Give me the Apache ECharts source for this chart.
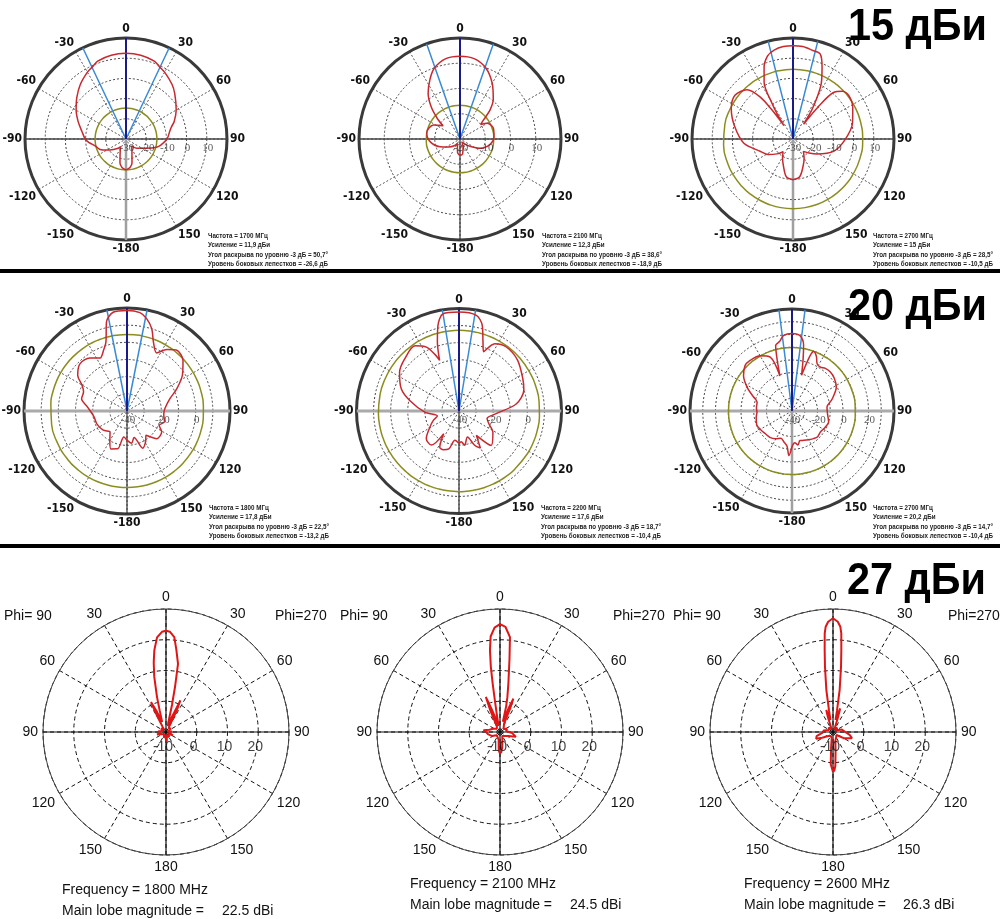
<!DOCTYPE html>
<html>
<head>
<meta charset="utf-8">
<title>Диаграммы направленности</title>
<style>
html, body { margin: 0; padding: 0; background: #fff; }
#chart { width: 1000px; height: 919px; }
</style>
</head>
<body>
<div id="chart"></div>
<script src="https://cdn.jsdelivr.net/npm/echarts@6/dist/echarts.min.js"></script>
<script>
// ---- pattern data: [angle deg, level dB] ----
var pat1700 = [[-180,-14.7],[-172,-15.8],[-166,-17.7],[-160,-21.4],[-152,-24],[-145,-25.4],[-140,-24],[-130,-22],[-120,-19],[-112,-16.2],[-103,-14.5],[-95,-11.5],[-90,-9.8],[-80,-7.8],[-70,-4.8],[-60,-1.5],[-50,1.8],[-40,5.2],[-30,8.2],[-25,9.4],[-20,11],[-10,12.1],[0,12.4],[10,12.1],[20,11],[25,9.4],[30,8.2],[40,5.4],[47,3],[60,-1.3],[70,-4.6],[75,-6.7],[80,-8],[90,-9.7],[100,-12.5],[105,-14.4],[114,-18.8],[122,-21.5],[131,-23],[141,-25.6],[150,-24.1],[160,-21.4],[166,-17.7],[172,-15.8],[180,-14.7]];
var pat2100a = [[-180,-13.4],[-170,-14.5],[-160,-17],[-150,-18],[-140,-16.5],[-125,-14.5],[-111,-11.5],[-95,-8.1],[-80,-6.6],[-70,-7],[-62,-8.1],[-56,-10.5],[-52,-11.5],[-48,-8],[-42,-3],[-35,2],[-27,6.3],[-20,9.8],[-10,12.3],[0,12.8],[10,12.3],[20,9.9],[30,5.5],[40,0.5],[46,-3.5],[51,-8],[55,-10],[60,-7.5],[72,-6.1],[86,-6.5],[100,-7.9],[115,-11.3],[130,-16],[145,-18.5],[160,-16.5],[170,-14],[180,-13.4]];
var pat2700a = [[-180,-9.8],[-170,-11],[-161,-15.6],[-152,-19],[-142,-22],[-133,-19.2],[-122,-15.5],[-111,-12.8],[-95,-5.6],[-78,-0.5],[-64,4],[-53,6],[-43,3.3],[-38,-3.7],[-36,-12],[-34,-22],[-32.5,-16],[-30.5,-9.6],[-27,1.5],[-22,8.2],[-17,13],[-12,15],[-6,16],[0,16.2],[6,16],[12,15],[17.7,14.2],[22,8.4],[27,0.8],[30,-6],[33,-13],[35.5,-21],[38,-10],[41,0.5],[46,4],[52,5],[62,3.5],[75,0.5],[91,-4.3],[107,-9],[122,-16.1],[131,-19.5],[140,-22],[150,-19],[160,-15.5],[170,-11],[180,-9.8]];
var pat1800a = [[-180,-23],[-173,-24.8],[-166,-17.3],[-157,-16],[-150,-20],[-141,-24.3],[-129,-22.2],[-113,-20.9],[-100,-20.5],[-84,-16.8],[-75,-12.6],[-66,-12.3],[-60,-9.7],[-54,-4.5],[-45,-1.2],[-35,-2.3],[-27,-5.4],[-21,-2],[-17,2],[-13,13.2],[-8,18.1],[0,18.6],[7.5,17.8],[12,15],[16.7,10.1],[21,3],[27,-2],[33,2.7],[39,5.7],[48,3.9],[57,-1.5],[66,-8.3],[74,-14],[86,-17.8],[95,-18.5],[106,-17.3],[114,-19.5],[121,-16.4],[133,-16.4],[142,-22],[149,-19],[157,-16.5],[165,-24],[172,-21],[180,-23]];
var pat2200 = [[-180,-21],[-172,-22.7],[-165,-17],[-158,-15.5],[-152,-16],[-146,-24],[-141,-14.3],[-130,-15],[-119,-20.5],[-110,-24],[-103,-27],[-92,-20],[-78,-10.5],[-69,-3.8],[-57,1.5],[-46,4.1],[-34,6],[-27,2],[-23,-4],[-21,-8.3],[-17.4,2.3],[-13.8,11.6],[-9.3,17.7],[0,17.9],[10.3,16.9],[15.2,11.9],[19.2,2.7],[22.5,-2.5],[28,4.6],[36.5,6.6],[49,5.4],[63,1.9],[72,-0.1],[83,-6.3],[94,-18.2],[105,-23],[113,-21],[122,-16.6],[137,-12.4],[144.5,-22.5],[150,-15],[155.5,-18],[162,-24],[170.6,-19.7],[176,-22],[180,-21]];
var pat2700b = [[-180,-12],[-176,-5],[-172,-12],[-165,-15],[-158,-17],[-149,-14.6],[-140,-13],[-130,-12.5],[-122,-11.5],[-112,-10.3],[-100,-11.5],[-92,-12.5],[-85,-12],[-76,-11.8],[-70,-8],[-63,-1],[-54,7],[-46,11.2],[-40,11.5],[-30,10],[-22,5.6],[-19,-11],[-16,2.6],[-14,13],[-10,15.5],[-6.3,19.6],[0,20.7],[6.3,19.2],[10,12.3],[12,2],[15,-11],[18,5],[20,9.7],[24,7],[28,2],[33,1],[38,2.5],[44.5,2.9],[52,2],[61.6,-0.5],[73.7,-7.3],[83.5,-12.4],[95,-12],[106.7,-10],[116,-11],[126.5,-12.3],[135,-11.5],[142,-12.5],[150,-14],[158,-15.2],[165,-16],[170,-13],[175,-15],[180,-12]];
var pat1800b = [[-180,-7.5],[-170,-9],[-160,-8],[-140,-9],[-120,-8.5],[-105,-7],[-95,-8.5],[-85,-7.5],[-70,-9],[-55,-8],[-40,-9],[-32,-8.5],[-29,-4],[-26.6,0.9],[-24,-3],[-21,-6.5],[-18,-7],[-16.3,-2.6],[-14.4,1.8],[-12,8.4],[-10,13],[-8.1,16.9],[-5.4,20.9],[-2.3,22.6],[0,22.9],[2.3,22.6],[5,21],[7.2,16.9],[10,12.5],[11.3,5],[12.5,-1],[14,-7],[18,-8],[21,-5],[24.4,1.3],[26.5,-2],[29,-7.5],[35,-8.5],[45,-9],[55,-8],[70,-9.5],[85,-8],[100,-9],[115,-7.5],[130,-9],[150,-8],[165,-9],[175,-7],[180,-7.5]];
var pat2100b = [[-180,-3],[-176,-4],[-170,-7.5],[-155,-8],[-135,-8.5],[-115,-7],[-100,-6],[-90,-5.5],[-84,-4.6],[-78,-6.5],[-65,-7.5],[-45,-8.5],[-30,-8],[-26,-6],[-24,-2],[-22,2.3],[-20,-2],[-17,-6],[-13,-8],[-10.5,-4.5],[-9.2,0.5],[-8.6,6],[-8,11.4],[-7,16.8],[-5.6,21.2],[-3,24],[0,25.1],[3,24.2],[6,21],[7.4,14],[9.8,6],[12,1.5],[13.5,-1.5],[15.5,-6.5],[18,-6],[20,-1.5],[21.8,1.7],[23.5,-2],[26,-7],[35,-7.5],[50,-8.5],[65,-7.5],[80,-8],[95,-6],[107,-4.6],[115,-7],[130,-8],[150,-8.5],[165,-7],[172,-5],[176,-3.5],[180,-3]];
var pat2600 = [[-180,3],[-178,2.5],[-176,0.5],[-173,-5],[-168,-8],[-150,-8.5],[-130,-8],[-118,-6],[-112,-4.1],[-104,-4.5],[-95,-6.5],[-80,-7],[-65,-8.5],[-45,-8],[-30,-9],[-22,-8],[-19,-5],[-17,-2.5],[-15,-5],[-12,-6],[-10.5,-2.8],[-9,3.8],[-7,11.4],[-5.8,16.8],[-4.8,22.2],[-4,24.3],[-2.5,25.9],[0,27],[2.5,25.9],[4,24.3],[4.8,22.2],[5.8,16.8],[7,11.4],[9,3.8],[10.5,-2.8],[12,-6],[15,-4],[17,-2],[19,-5.5],[22,-8],[30,-9],[45,-8],[60,-9],[75,-7],[90,-6],[100,-4.5],[108,-3.5],[114,-3.8],[120,-6],[130,-8.5],[150,-8],[165,-7],[172,-4],[176,1],[178,2.5],[180,3]];

var patterns = [pat1700, pat2100a, pat2700a, pat1800a, pat2200, pat2700b, pat1800b, pat2100b, pat2600];

// measured parameters printed under each plot
var freqs = [1700, 2100, 2700, 1800, 2200, 2700, 1800, 2100, 2600];
var gains = [11.9, 12.3, 15, 17.8, 17.6, 20.2, 22.5, 24.5, 26.3];
var beamwidths = [50.7, 38.6, 28.5, 22.5, 18.7, 14.7];
var sidelobes = [-26.6, -18.9, -10.5, -13.2, -10.4, -10.4];

// radial scale and tick labels
var radMin = [-30, -20, -30, -40, -40, -40, -10, -10, -10];
var radMax = [20, 20, 20, 20, 20, 40, 30, 30, 30];
var radLabels = [[-30,-20,-10,0,10], [-20,-10,0,10], [-30,-20,-10,0,10], [-40,-20,0], [-40,-20,0], [-40,-20,0,20], [-10,0,10,20], [-10,0,10,20], [-10,0,10,20]];
var groupTitles = ['15 дБи', '20 дБи', '27 дБи'];

// ---- layout ----
var centers = [[126,139],[460,139],[793,139],[127,411],[459,411],[792,411],[166,732],[500,732],[833,732]];
var radii = [101, 101, 101, 103, 102.5, 102, 123, 123, 123];
var lowerGray = [true, false, true, false, false, true];
var horizGray = [false, false, false, true, true, true];
var infoPos = [[208,231],[542,231],[873,231],[209,503],[541,503],[873,503]];
var freqPos = [[62,880],[410,874],[744,874]];
var valueX = [222, 570, 903];
var phiPos = [[4,275],[340,613],[673,948]];
var titlePos = [[848,5],[848,285],[847,559]];

var narrowFont = "'DejaVu Sans Condensed', 'Liberation Sans', Arial, sans-serif";
var sansFont = "'Liberation Sans', Arial, sans-serif";
var serifFont = "'Liberation Serif', 'Times New Roman', serif";

function ru(v) { return String(v).replace('.', ','); }

var polar = [], angleAxis = [], radiusAxis = [], series = [], graphic = [];

function lineSeries(i, data, color, width, z, smooth) {
    series.push({
        type: 'line', coordinateSystem: 'polar', polarIndex: i,
        data: data, symbol: 'none', smooth: smooth || false, silent: true, z: z,
        lineStyle: { color: color, width: width }
    });
}

function addChart(i) {
    var en = i >= 6;
    var mn = radMin[i], mx = radMax[i];
    polar.push({ center: centers[i], radius: radii[i] });
    angleAxis.push({
        polarIndex: i, type: 'value', min: 0, max: 360, interval: 30,
        startAngle: 90, clockwise: true,
        axisLine: { lineStyle: en ? { color: '#444', width: 1 } : { color: '#3a3a3a', width: 3 } },
        axisTick: { show: false },
        axisLabel: {
            margin: en ? 5 : 3, color: '#111',
            fontSize: en ? 14 : 12, fontWeight: en ? 'normal' : 'bold',
            fontFamily: en ? sansFont : narrowFont,
            formatter: function (v) {
                if (v === 360) return '';
                if (en) return String(v > 180 ? 360 - v : v);
                return String(v >= 180 ? v - 360 : v);
            }
        },
        splitLine: { lineStyle: en ? { color: '#111', width: 1, type: [4, 3] } : { color: '#555', width: 1, type: [2, 2] } }
    });
    radiusAxis.push({
        polarIndex: i, type: 'value', min: mn, max: mx, interval: 10,
        axisLine: { show: false }, axisTick: { show: false }, axisLabel: { show: false },
        splitLine: { lineStyle: en ? { color: '#111', width: 1, type: [4, 3] } : { color: '#444', width: 1, type: [2, 2] } }
    });

    if (en) {
        lineSeries(i, [[mx, 0], [mn, 0], [mx, 180]], '#111', 1.2, 2);
        lineSeries(i, [[mx, 90], [mn, 90], [mx, 270]], '#111', 1.2, 2);
    } else {
        lineSeries(i, [[mx, 90], [mn, 90], [mx, 270]], horizGray[i] ? '#aaa' : '#444', horizGray[i] ? 3 : 1.5, 2);
        lineSeries(i, [[mn, 180], [mx, 180]], lowerGray[i] ? '#a0a0a0' : '#333', lowerGray[i] ? 2.5 : 1.2, 2);
        var level = gains[i] + sidelobes[i];
        lineSeries(i, patterns[i].map(function (p) { return [level, (p[0] + 360) % 360]; }), '#8c8c20', 1.5, 3, true);
        var h = beamwidths[i] / 2;
        lineSeries(i, [[mx, h], [mn, 0], [mx, 360 - h]], '#3a8ad6', 1.5, 4);
        lineSeries(i, [[mn, 0], [mx, 0]], '#1a1a88', 2, 4);
    }
    lineSeries(i, patterns[i].map(function (p) { return [p[1], (p[0] + 360) % 360]; }),
        en ? '#e01515' : '#c8282e', en ? 2 : 1.5, 5, en ? false : 0.3);

    series.push({
        type: 'scatter', coordinateSystem: 'polar', polarIndex: i, silent: true, z: 6,
        symbolSize: 0,
        data: radLabels[i].map(function (v) { return [v, 90]; }),
        label: {
            show: true, position: 'inside',
            offset: en ? [-3, 15] : [1, 9],
            color: en ? '#111' : '#333', fontSize: en ? 14 : 11,
            fontFamily: en ? sansFont : serifFont,
            formatter: function (p) { return String(p.value[0]); }
        }
    });

    if (!en) {
        graphic.push({
            type: 'text', x: infoPos[i][0], y: infoPos[i][1], scaleX: 0.78,
            style: {
                text: 'Частота = ' + freqs[i] + ' МГц\n' +
                    'Усиление = ' + ru(gains[i]) + ' дБи\n' +
                    'Угол раскрыва по уровню -3 дБ = ' + ru(beamwidths[i]) + '°\n' +
                    'Уровень боковых лепестков = ' + ru(sidelobes[i]) + ' дБ',
                font: 'bold 8px ' + sansFont, lineHeight: 9.4, fill: '#222'
            }
        });
    } else {
        var k = i - 6;
        graphic.push({
            type: 'text', left: freqPos[k][0], top: freqPos[k][1],
            style: { text: 'Frequency = ' + freqs[i] + ' MHz\nMain lobe magnitude =', font: '14px ' + sansFont, lineHeight: 21, fill: '#111' }
        });
        graphic.push({
            type: 'text', left: valueX[k], top: freqPos[k][1] + 21,
            style: { text: gains[i].toFixed(1) + ' dBi', font: '14px ' + sansFont, lineHeight: 21, fill: '#111' }
        });
        graphic.push({ type: 'text', left: phiPos[k][0], top: 609, style: { text: 'Phi= 90', font: '14px ' + sansFont, fill: '#111' } });
        graphic.push({ type: 'text', left: phiPos[k][1], top: 609, style: { text: 'Phi=270', font: '14px ' + sansFont, fill: '#111' } });
    }
}

for (var i = 0; i < 9; i++) addChart(i);

graphic.push({ type: 'rect', shape: { x: 0, y: 269, width: 1000, height: 4 }, style: { fill: '#000' } });
graphic.push({ type: 'rect', shape: { x: 0, y: 544, width: 1000, height: 4 }, style: { fill: '#000' } });
for (var t = 0; t < 3; t++) {
    graphic.push({
        type: 'text', x: titlePos[t][0], y: titlePos[t][1], scaleX: 0.92, z: 20,
        style: { text: groupTitles[t], font: 'bold 45px ' + sansFont, fill: '#000' }
    });
}

var chart = echarts.init(document.getElementById('chart'));
chart.setOption({
    backgroundColor: '#fff',
    animation: false,
    polar: polar,
    angleAxis: angleAxis,
    radiusAxis: radiusAxis,
    series: series,
    graphic: graphic
});
</script>
</body>
</html>
